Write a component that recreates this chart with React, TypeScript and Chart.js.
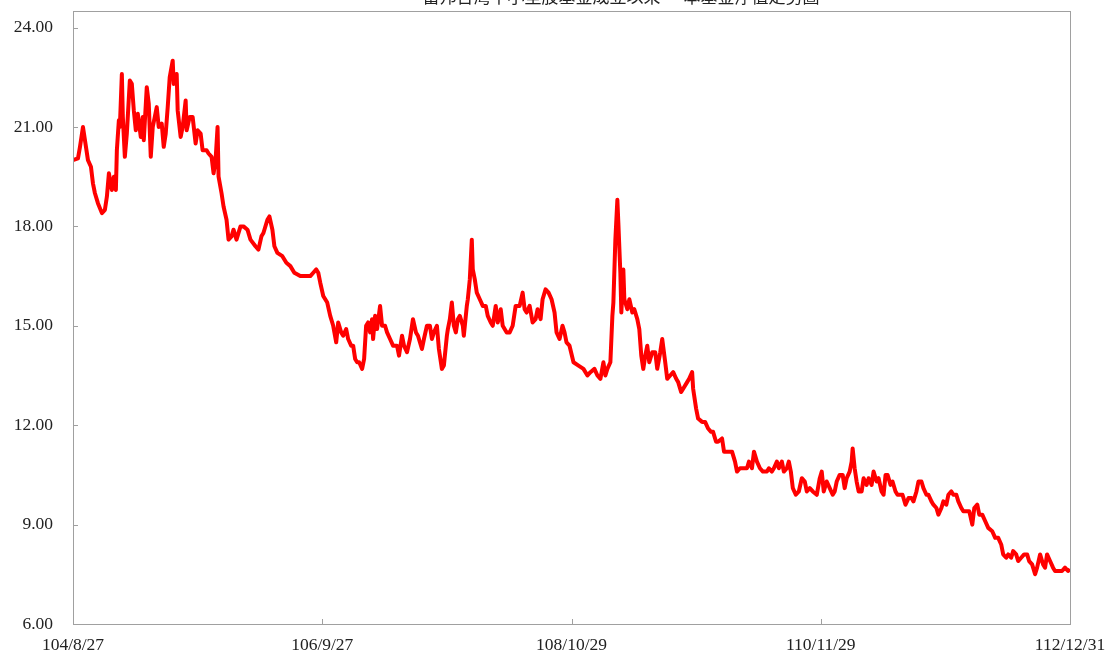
import React, { useEffect, useRef } from "react";
import { Chart, registerables } from "chart.js";

Chart.register(...registerables);

const TITLE = "富邦台灣中小型股基金成立以來 — 本基金淨值走勢圖";
const X_TICK_LABELS = ["104/8/27", "106/9/27", "108/10/29", "110/11/29", "112/12/31"];
const X_TICK_MONTHS = [0, 25, 50, 75, 100];
const Y_TICKS = [6, 9, 12, 15, 18, 21, 24];

// months elapsed since 104/8/27
const MONTHS = [
  0, 0.5, 0.7, 1.0, 1.3, 1.5, 1.8, 2.0, 2.2, 2.5, 2.9, 3.2, 3.4, 3.6, 3.9, 4.1, 4.3, 4.4, 4.6, 4.7,
  4.9, 5.0, 5.2, 5.4, 5.7, 5.9, 6.1, 6.3, 6.5, 6.8, 7.0, 7.1, 7.4, 7.6, 7.8, 8.0, 8.2, 8.4, 8.6, 8.9,
  9.1, 9.3, 9.5, 9.7, 10.0, 10.1, 10.4, 10.5, 10.8, 11.0, 11.3, 11.4, 11.7, 12.0, 12.3, 12.5, 12.8, 13.0, 13.4, 13.6,
  13.9, 14.1, 14.3, 14.5, 14.6, 14.9, 15.1, 15.4, 15.6, 15.9, 16.1, 16.4, 16.8, 17.1, 17.5, 17.8, 18.3, 18.6, 18.9, 19.1,
  19.5, 19.7, 20.0, 20.2, 20.5, 21.0, 21.4, 21.8, 22.2, 22.8, 23.3, 23.8, 24.1, 24.4, 24.6,
  24.8, 25.1, 25.5, 25.8, 26.1, 26.4, 26.6, 26.9, 27.1, 27.4, 27.6, 27.9, 28.1, 28.3, 28.5, 28.7, 29.0, 29.2, 29.4, 29.6,
  29.8, 30.0, 30.1, 30.3, 30.5, 30.8, 31.0, 31.3, 31.5, 31.8, 32.1, 32.5, 32.7, 33.0, 33.2, 33.5, 33.8, 34.1, 34.4, 34.6,
  35.0, 35.2, 35.5, 35.8, 36.0, 36.2, 36.5, 36.7, 37.0, 37.2, 37.5, 37.6, 37.8, 38.0, 38.2, 38.4, 38.6, 38.8, 39.1, 39.2,
  39.5, 39.6, 39.8, 40.0, 40.1, 40.3, 40.5, 40.8, 41.1, 41.4, 41.6, 41.9, 42.1, 42.4, 42.6, 42.9, 43.1, 43.5, 43.8, 44.1,
  44.4, 44.6, 44.8, 45.1, 45.3, 45.5, 45.8, 46.1, 46.4, 46.6, 46.9, 47.1, 47.4, 47.7, 48.0, 48.3, 48.5, 48.8, 49.1, 49.3,
  49.5, 49.8, 50.2,
  50.7, 51.2, 51.6, 51.9, 52.3, 52.6, 52.9, 53.2, 53.4, 53.6, 53.9, 54.1, 54.2, 54.4, 54.6, 54.7, 54.9, 55.0, 55.2, 55.3,
  55.6, 55.8, 56.1, 56.3, 56.6, 56.8, 57.0, 57.2, 57.4, 57.6, 57.8, 58.1, 58.4, 58.6, 58.9, 59.1, 59.4, 59.6, 59.9, 60.2,
  60.5, 60.7, 61.0, 61.2, 61.6, 61.8, 62.1, 62.2, 62.5, 62.7, 63.1, 63.4, 63.7, 64.0, 64.2, 64.5, 64.7, 65.1, 65.3, 65.6,
  65.8, 66.1, 66.4, 66.6, 66.9, 67.2, 67.6, 67.8, 68.1, 68.3, 68.6, 68.9, 69.2, 69.6, 69.8, 70.1, 70.3, 70.6, 70.8, 71.1,
  71.3, 71.6, 71.8, 72.0, 72.2, 72.5, 72.8, 73.1, 73.4, 73.6, 73.9, 74.2, 74.6, 74.9,
  75.1, 75.3, 75.6, 75.9, 76.2, 76.4, 76.6, 76.9, 77.2, 77.4, 77.6, 77.9, 78.1, 78.2, 78.4, 78.6, 78.8, 79.1, 79.3, 79.6,
  79.8, 80.1, 80.3, 80.6, 80.8, 81.1, 81.3, 81.5, 81.7, 82.0, 82.2, 82.5, 82.7, 83.0, 83.2, 83.5, 83.8, 84.1, 84.3, 84.6,
  84.8, 85.1, 85.3, 85.6, 85.8, 86.1, 86.3, 86.6, 86.8, 87.1, 87.3, 87.6, 87.8, 88.1, 88.3, 88.6, 88.8, 89.1, 89.3, 89.7,
  89.9, 90.2, 90.4, 90.7, 90.9, 91.2, 91.5, 91.8, 92.2, 92.5, 92.8, 93.1, 93.3, 93.6, 93.8, 94.1, 94.3, 94.6, 94.8, 95.1,
  95.4, 95.7, 95.9, 96.2, 96.5, 96.7, 97.0, 97.3, 97.5, 97.7, 98.0, 98.3, 98.5, 98.8, 99.2, 99.5, 99.8, 100.0,
];

// fund NAV
const NAV = [
  20.0, 20.05, 20.4, 21.0, 20.4, 20.0, 19.8, 19.3, 19.0, 18.7, 18.4, 18.5, 18.9, 19.6, 19.1, 19.5, 19.1, 20.3, 21.2, 21.0,
  22.6, 21.3, 20.1, 20.8, 22.4, 22.3, 21.5, 20.9, 21.4, 20.7, 21.3, 20.6, 22.2, 21.7, 20.1, 21.0, 21.3, 21.6, 21.0, 21.1,
  20.4, 20.8, 21.6, 22.5, 23.0, 22.3, 22.6, 21.5, 20.7, 21.0, 21.8, 20.9, 21.3, 21.3, 20.5, 20.9, 20.8, 20.3, 20.3, 20.2,
  20.1, 19.6, 20.0, 21.0, 19.5, 19.0, 18.6, 18.2, 17.6, 17.7, 17.9, 17.6, 18.0, 18.0, 17.9, 17.6, 17.4, 17.3, 17.7, 17.8,
  18.2, 18.3, 17.9, 17.4, 17.2, 17.1, 16.9, 16.8, 16.6, 16.5, 16.5, 16.5, 16.6, 16.7, 16.6,
  16.3, 15.9, 15.7, 15.3, 15.0, 14.5, 15.1, 14.8, 14.7, 14.9, 14.6, 14.4, 14.4, 14.0, 13.9, 13.9, 13.7, 14.0, 15.0, 15.1,
  14.8, 15.2, 14.6, 15.3, 14.9, 15.6, 15.0, 15.0, 14.8, 14.6, 14.4, 14.4, 14.1, 14.7, 14.4, 14.2, 14.6, 15.2, 14.8, 14.7,
  14.3, 14.6, 15.0, 15.0, 14.6, 14.8, 15.0, 14.3, 13.7, 13.8, 14.7, 14.9, 15.2, 15.7, 15.0, 14.8, 15.2, 15.3, 15.0, 14.7,
  15.6, 15.8, 16.4, 17.6, 16.7, 16.4, 16.0, 15.8, 15.6, 15.6, 15.3, 15.1, 15.0, 15.6, 15.1, 15.5, 15.0, 14.8, 14.8, 15.0,
  15.6, 15.6, 15.6, 16.0, 15.5, 15.4, 15.6, 15.1, 15.2, 15.5, 15.2, 15.8, 16.1, 16.0, 15.8, 15.4, 14.8, 14.6, 15.0, 14.8,
  14.5, 14.4, 13.9,
  13.8, 13.7, 13.5, 13.6, 13.7, 13.5, 13.4, 13.9, 13.5, 13.7, 13.9, 15.3, 15.7, 17.6, 18.8, 18.1, 16.6, 15.4, 16.7, 15.8,
  15.5, 15.8, 15.4, 15.5, 15.2, 14.9, 14.1, 13.7, 14.1, 14.4, 13.9, 14.2, 14.2, 13.7, 14.2, 14.6, 13.9, 13.4, 13.5, 13.6,
  13.4, 13.3, 13.0, 13.1, 13.3, 13.4, 13.6, 13.1, 12.5, 12.2, 12.1, 12.1, 11.9, 11.8, 11.8, 11.5, 11.5, 11.6, 11.2, 11.2,
  11.2, 11.2, 10.9, 10.6, 10.7, 10.7, 10.7, 10.9, 10.7, 11.2, 10.9, 10.7, 10.6, 10.6, 10.7, 10.6, 10.7, 10.9, 10.7, 10.9,
  10.6, 10.7, 10.9, 10.6, 10.1, 9.9, 10.0, 10.4, 10.3, 10.0, 10.1, 10.0, 9.9, 10.4,
  10.6, 10.0, 10.3, 10.1, 9.9, 10.0, 10.3, 10.5, 10.5, 10.1, 10.4, 10.6, 10.9, 11.3, 10.7, 10.3, 10.0, 10.0, 10.4, 10.2,
  10.4, 10.2, 10.6, 10.3, 10.4, 10.0, 9.9, 10.5, 10.5, 10.2, 10.3, 10.0, 9.9, 9.9, 9.9, 9.6, 9.8, 9.8, 9.7, 10.0,
  10.3, 10.3, 10.1, 9.9, 9.9, 9.7, 9.6, 9.5, 9.3, 9.5, 9.7, 9.6, 9.9, 10.0, 9.9, 9.9, 9.7, 9.5, 9.4, 9.4,
  9.4, 9.0, 9.5, 9.6, 9.3, 9.3, 9.1, 8.9, 8.8, 8.6, 8.6, 8.4, 8.1, 8.0, 8.1, 8.0, 8.2, 8.1, 7.9, 8.0,
  8.1, 8.1, 7.9, 7.8, 7.5, 7.7, 8.1, 7.8, 7.7, 8.1, 7.9, 7.7, 7.6, 7.6, 7.6, 7.7, 7.6, 7.65,
];

const LABEL_FONT = { family: "'Liberation Serif', 'DejaVu Serif', serif", size: 17.5 };

const framePlugin = {
  id: "frameAndTicks",
  afterDraw(chart: any) {
    const { ctx, chartArea } = chart;
    const xs = chart.scales.x;
    const ys = chart.scales.y;
    ctx.save();
    ctx.strokeStyle = "#a0a0a0";
    ctx.lineWidth = 1;
    ctx.strokeRect(
      Math.round(chartArea.left) + 0.5,
      Math.round(chartArea.top) + 0.5,
      Math.round(chartArea.right - chartArea.left),
      Math.round(chartArea.bottom - chartArea.top)
    );
    ctx.beginPath();
    Y_TICKS.forEach((v) => {
      const y = Math.round(ys.getPixelForValue(v)) + 0.5;
      ctx.moveTo(chartArea.left, y);
      ctx.lineTo(chartArea.left + 5, y);
    });
    X_TICK_MONTHS.forEach((v) => {
      const x = Math.round(xs.getPixelForValue(v)) + 0.5;
      ctx.moveTo(x, chartArea.bottom);
      ctx.lineTo(x, chartArea.bottom - 5);
    });
    ctx.stroke();
    // title (mostly cut off above the page edge)
    ctx.fillStyle = "#222";
    ctx.font = "17px 'Noto Sans CJK TC', sans-serif";
    ctx.textAlign = "center";
    ctx.textBaseline = "bottom";
    ctx.fillText(TITLE, 621, 5);
    ctx.restore();
  },
};

export default function App() {
  const canvasRef = useRef<HTMLCanvasElement | null>(null);

  useEffect(() => {
    if (!canvasRef.current) return;
    const points = MONTHS.map((m, i) => ({ x: m, y: NAV[i] }));
    const chart = new Chart(canvasRef.current, {
      type: "line",
      data: {
        datasets: [
          {
            data: points,
            borderColor: "#ff0000",
            borderWidth: 4,
            pointRadius: 0,
            tension: 0,
            fill: false,
            borderJoinStyle: "round",
          },
        ],
      },
      options: {
        animation: false,
        responsive: false,
        maintainAspectRatio: false,
        layout: { padding: { top: 11, right: 39, left: 0, bottom: 0 } },
        plugins: {
          legend: { display: false },
          tooltip: { enabled: false },
          title: { display: false },
        },
        scales: {
          x: {
            type: "linear",
            min: 0,
            max: 100,
            afterBuildTicks: (axis: any) => {
              axis.ticks = X_TICK_MONTHS.map((v) => ({ value: v }));
            },
            afterFit: (scale: any) => {
              scale.height = 31;
              scale.paddingLeft = 0;
              scale.paddingRight = 0;
              scale.paddingTop = 0;
              scale.paddingBottom = 0;
            },
            grid: { display: false, drawTicks: false },
            border: { display: false },
            ticks: {
              padding: 11,
              maxRotation: 0,
              autoSkip: false,
              color: "#222",
              font: LABEL_FONT,
              callback: (v: any) => X_TICK_LABELS[X_TICK_MONTHS.indexOf(Number(v))] ?? "",
            },
          },
          y: {
            type: "linear",
            min: 6,
            max: 24.5,
            afterBuildTicks: (axis: any) => {
              axis.ticks = Y_TICKS.map((v) => ({ value: v }));
            },
            afterFit: (scale: any) => {
              scale.width = 73;
              scale.paddingLeft = 0;
              scale.paddingRight = 0;
              scale.paddingTop = 0;
              scale.paddingBottom = 0;
            },
            grid: { display: false, drawTicks: false },
            border: { display: false },
            ticks: {
              padding: 20,
              color: "#222",
              font: LABEL_FONT,
              callback: (v: any) => Number(v).toFixed(2),
            },
          },
        },
      },
      plugins: [framePlugin],
    });
    return () => chart.destroy();
  }, []);

  return (
    <div style={{ position: "fixed", left: 0, top: 0, width: 1109, height: 655, background: "#fff" }}>
      <canvas ref={canvasRef} width={1109} height={655} style={{ display: "block", width: 1109, height: 655 }} />
    </div>
  );
}
